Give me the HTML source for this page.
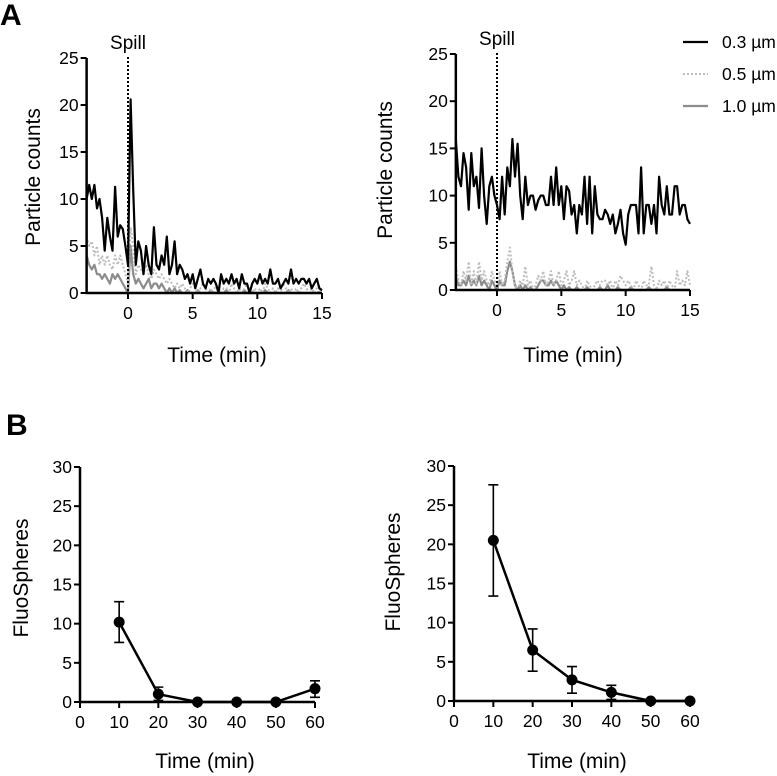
<!DOCTYPE html>
<html><head><meta charset="utf-8"><style>
body{margin:0;background:#fff}
svg{display:block;font-family:"Liberation Sans",Arial,sans-serif}
</style></head><body>
<svg id="fig" width="777" height="776" viewBox="0 0 777 776"></svg>
<script>
// Panel A data (particle counts, sampled every ~0.2 min from -3.2 to 15 min)
const aLeft03=[10,11.5,10,11.5,9,10,8,4.5,8,6,4.5,11.3,6,7.2,6.8,5,3,20.6,11,3,5.5,4.5,2,5,3,2,7,3,2.5,4,3,6,2,3,5.5,2,3,2.5,1.5,2,1,2,0.5,1.5,2.5,1,0.5,1.5,1,1.5,1,0,2,1,1.5,1,2,1,1.5,0.5,2,1,1,0,1,1.5,1,2,1,1.5,1,2.5,1,1,1.5,0.5,1,1.5,1,2.5,1,1.5,1,1.5,1.5,1,1.5,0.5,1,1.5,0.5,0.3];
const aLeft05=[6,5,5.5,4,5,3,4,3,4,3,2.5,4,3,4,3,2,1,7,5,2,3,2.5,2,3,2,1.5,2.5,2,1.5,2,1.5,1,1.5,1,0.5,1,0.5,1,0.5,0,0.5,1,0.5,0,0.5,1,0.5,0,0.5,0,1,0.5,0,0.5,0.5,0,1,0.5,0,0.5,0,0.5,1,0.5,0,0.5,0,0.5,0,1,0.5,0,0.5,0,0.5,0,1,0.5,0,0.5,0,0.5,0,0.5,1,0.5,0,0.5,0,0.5,0,0.5];
const aLeft10=[4,3,2.5,3,2,2,1.5,2,1.5,1,2,1.5,2,1.5,1,0.5,0,5,2,1,1.5,1,0.5,1,1.5,0.5,1,1,0.5,1,0.5,0,0.5,0,0.5,0,0.3,0,0,0.3,0,0,0,0.3,0,0,0,0,0.3,0,0,0,0,0,0.3,0,0,0,0,0,0,0.3,0,0,0,0,0,0,0,0.3,0,0,0,0,0,0,0,0,0.3,0,0,0,0,0,0,0,0,0,0,0,0,0];
const aRight03=[16,12,11,14.5,13,8.5,14.5,11,12,8.7,15,10,7,11,12,10,9,7.5,12,8,13,11,16,12,15.5,10,7.5,12,9,10,10,8.5,9.5,10,10,9,9,12,9,13,9,11,7.5,11,10.5,8,9,6,9,8,12,7,12,6,11,8,7.5,7.5,8.5,8,7,8,6,7,8.5,6,4.8,8,9,9,9,6,13,6,9,9,7,9,6,12,9,8,11,8,8,11,11,8,9,9,7.5,7];
const aRight05=[2.5,1,0.5,2,1,3,0.5,2,0.5,3,1,2,1,0.5,2,1,0.5,2,0.5,1,3,4.5,2,0.5,0,1,0.5,2.5,0.5,1,0,0.5,1.5,1,2,0.5,1,2,0.5,1,2,0.5,1,2,0.5,1,2,0.5,1,0.5,0,1,0.5,0,0.5,1,0.5,1,1,0.5,1,0,1,0.5,1.5,1,0.5,1,0.5,0,1,0.5,0,1,0.5,0.5,2.5,0.5,0,1,0.5,1,0,1,0.5,0,2,0.5,1,0.5,2,0.5];
const aRight10=[1.5,0.5,0.5,1,0.5,1.5,0.5,1,0.5,1.5,0.5,1,0.5,0,1,0.5,0,1,0.5,0.5,2,3,2,0.5,0,0.5,0,0.5,0,0.3,0,0,0.5,1,1,0.5,0.5,1,0.5,1,0.5,0,0.5,0,0.3,0,0,0.3,0,0,0,0.3,0,0,0,0,0.3,0,0,0.5,0,0,0,0.3,0,0,0,0,0.3,0,0,0,0,0,0,0.3,0,0,0,0,0,0,0.3,0,0,0,0,0,0,0,0,0];
const aXTicks=[0,5,10,15];
const aYTicks=[0,5,10,15,20,25];
// Panel B data
const bTimes=[10,20,30,40,50,60];
const bLeftMean=[10.2,1,0,0,0,1.7];
const bLeftLo=[7.6,0.2,0,0,0,0.6];
const bLeftHi=[12.8,1.9,0,0,0,2.7];
const bRightMean=[20.5,6.5,2.7,1.1,0,0];
const bRightLo=[13.4,3.8,1,0.2,0,0];
const bRightHi=[27.6,9.2,4.4,2,0,0];
const bXTicks=[0,10,20,30,40,50,60];
const bYTicks=[0,5,10,15,20,25,30];

const NS='http://www.w3.org/2000/svg';
const svg=document.getElementById('fig');
function el(tag,attrs,parent,text){const e=document.createElementNS(NS,tag);for(const k in attrs)e.setAttribute(k,attrs[k]);if(text!==undefined)e.textContent=text;(parent||svg).appendChild(e);return e;}
function lin(d0,d1,r0,r1){return v=>r0+(v-d0)*(r1-r0)/(d1-d0);}

function drawAxes(g,x,y,xmin,xmax,ymin,ymax,xt,yt){
  const ax=el('line',{x1:x(xmin),x2:x(xmin),y1:y(ymax),y2:y(ymin),stroke:'#000','stroke-width':2.5},g);
  
  const bx=el('line',{x1:x(xmin)-1,x2:x(xmax),y1:y(ymin),y2:y(ymin),stroke:'#000','stroke-width':2.5},g);
  
  yt.forEach(v=>{el('line',{x1:x(xmin)-6,x2:x(xmin),y1:y(v),y2:y(v),stroke:'#000','stroke-width':2},g);
    const t=el('text',{x:x(xmin)-8,y:y(v)+6,'text-anchor':'end','font-size':17.5},g,String(v));
    });
  xt.forEach(v=>{el('line',{x1:x(v),x2:x(v),y1:y(ymin),y2:y(ymin)+6,stroke:'#000','stroke-width':2},g);
    const t=el('text',{x:x(v),y:y(ymin)+26,'text-anchor':'middle','font-size':17.5},g,String(v));
    });
}
function series(g,vals,x,y,x0,x1,style,name){
  const dt=(x1-x0)/(vals.length-1);
  const pts=vals.map((v,i)=>x(x0+i*dt).toFixed(1)+','+y(v).toFixed(1)).join(' ');
  const p=el('polyline',Object.assign({points:pts,fill:'none','stroke-linejoin':'round'},style),g);
  
}
const s03={stroke:'#000','stroke-width':2.2};
const s05={stroke:'#bdbdbd','stroke-width':2,'stroke-dasharray':'2,2'};
const s10={stroke:'#8c8c8c','stroke-width':2.2};

function panelA(x0px,x15px,y0px,y25px,l03,l05,l10,spillY,name){
  const g=el('g',{});
  const x=lin(0,15,x0px,x15px),y=lin(0,25,y0px,y25px);
  const xmin=-3.2;
  series(g,l10,x,y,xmin,15,s10,'series-1-0um');
  series(g,l05,x,y,xmin,15,s05,'series-0-5um');
  series(g,l03,x,y,xmin,15,s03,'series-0-3um');
  const sp=el('line',{x1:x(0),x2:x(0),y1:y(25)-1,y2:y(0),stroke:'#000','stroke-width':2,'stroke-dasharray':'2,2'},g);
  
  const st=el('text',{x:x(0),y:spillY,'text-anchor':'middle','font-size':19},g,'Spill');
  
  drawAxes(g,x,y,xmin,15,0,25,aXTicks,aYTicks);
}
panelA(128,322,293,58,aLeft03,aLeft05,aLeft10,49,'chart-a-left');
panelA(497,690,290,54,aRight03,aRight05,aRight10,45,'chart-a-right');

function txt(x,y,s,size,name,extra){const t=el('text',Object.assign({x:x,y:y,'font-size':size},extra||{}),svg,s);return t;}
txt(217,362,'Time (min)',21,'x-axis-title-a-left',{'text-anchor':'middle'});
txt(573,362,'Time (min)',21,'x-axis-title-a-right',{'text-anchor':'middle'});
txt(0,0,'Particle counts',21,'y-axis-title-a-left',{'text-anchor':'middle',transform:'translate(40,177) rotate(-90)'});
txt(0,0,'Particle counts',21,'y-axis-title-a-right',{'text-anchor':'middle',transform:'translate(392,170) rotate(-90)'});
txt(0,25,'A',30,'panel-label-a',{'font-weight':'bold'});
txt(6,435,'B',30,'panel-label-b',{'font-weight':'bold'});

// legend
const leg=el('g',{});
[['0.3 µm',s03,42],['0.5 µm',s05,74],['1.0 µm',s10,106]].forEach(([lab,st,yy])=>{
  const l=el('line',Object.assign({x1:683,x2:708,y1:yy,y2:yy},st),leg);
  
  const t=el('text',{x:722,y:yy+6,'font-size':17.5},leg,lab);
  
});

function panelB(axpx,x60px,y0px,y30px,mean,lo,hi,name){
  const g=el('g',{});
  const x=lin(0,60,axpx,x60px),y=lin(0,30,y0px,y30px);
  drawAxes(g,x,y,0,60,0,30,bXTicks,bYTicks);
  bTimes.forEach((t,i)=>{
    if(hi[i]>lo[i]){
      const e=el('path',{d:`M${x(t)-5},${y(hi[i])}H${x(t)+5}M${x(t)},${y(hi[i])}V${y(lo[i])}M${x(t)-5},${y(lo[i])}H${x(t)+5}`,stroke:'#000','stroke-width':1.6,fill:'none'},g);
      
    }
  });
  const p=el('polyline',{points:bTimes.map((t,i)=>x(t)+','+y(mean[i])).join(' '),fill:'none',stroke:'#000','stroke-width':2.5},g);
  
  bTimes.forEach((t,i)=>{const c=el('circle',{cx:x(t),cy:y(mean[i]),r:5.5,fill:'#000'},g);
    });
}
panelB(80,315,702,467,bLeftMean,bLeftLo,bLeftHi,'chart-b-left');
panelB(454,690,701,466,bRightMean,bRightLo,bRightHi,'chart-b-right');
txt(205,768,'Time (min)',21,'x-axis-title-b-left',{'text-anchor':'middle'});
txt(577,768,'Time (min)',21,'x-axis-title-b-right',{'text-anchor':'middle'});
txt(0,0,'FluoSpheres',21,'y-axis-title-b-left',{'text-anchor':'middle',transform:'translate(28,578) rotate(-90)'});
txt(0,0,'FluoSpheres',21,'y-axis-title-b-right',{'text-anchor':'middle',transform:'translate(400,572) rotate(-90)'});
</script>
</body></html>
